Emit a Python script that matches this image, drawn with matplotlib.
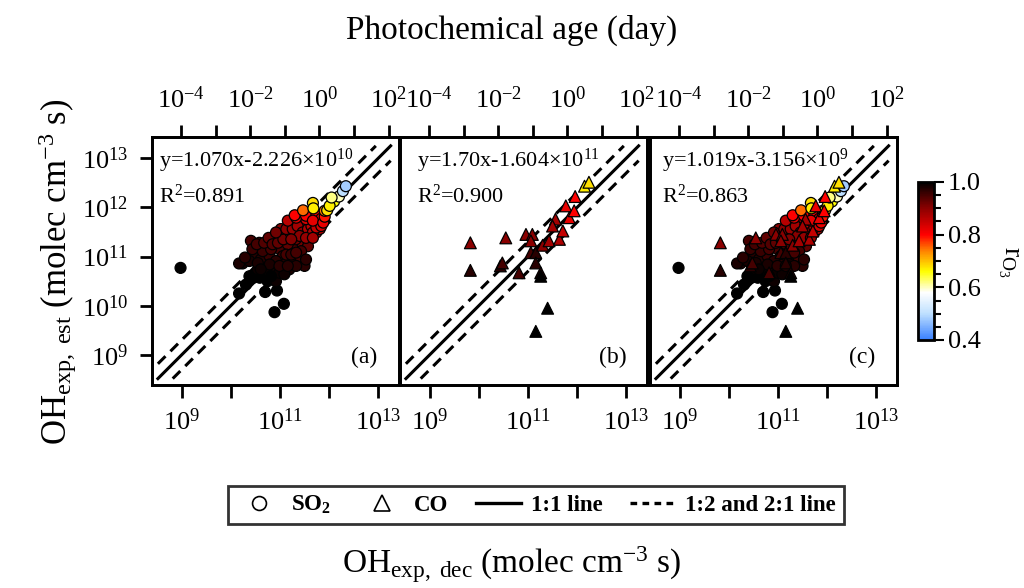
import numpy as np
import matplotlib
matplotlib.use('Agg')
import matplotlib.pyplot as plt
from matplotlib.colors import LinearSegmentedColormap
from matplotlib.ticker import FixedLocator, NullLocator, FuncFormatter, MultipleLocator
from matplotlib.lines import Line2D

plt.rcParams['font.family'] = ['Liberation Serif', 'DejaVu Serif']
plt.rcParams['mathtext.fontset'] = 'custom'
plt.rcParams['mathtext.rm'] = 'Liberation Serif'
plt.rcParams['mathtext.it'] = 'Liberation Serif:italic'
plt.rcParams['mathtext.bf'] = 'Liberation Serif:bold'

# SO2 points: log10(OHexp,dec), log10(OHexp,est), r_O3
so2_x = [8.98, 10.17, 10.31, 10.46, 10.59, 10.70, 10.94, 10.89, 11.08, 10.75, 10.92, 10.38,
         10.24, 10.41, 10.58, 10.72, 10.48, 10.61, 10.79, 10.89, 10.99, 11.06, 11.13, 11.26,
         11.19, 11.40, 11.50, 11.33, 10.85, 10.99, 10.72, 10.55, 10.38, 11.16, 11.02, 11.26,
         11.46, 11.57, 10.65, 10.92, 11.13, 10.82, 10.55, 11.33, 11.09, 10.17, 10.29, 10.44,
         10.53, 10.68, 10.77, 10.85, 10.96, 11.07, 11.21, 11.32, 11.43, 11.53, 11.23, 10.79,
         10.99, 10.61, 10.82, 11.16, 11.33, 11.02, 10.92, 11.40, 11.74, 11.81, 11.13, 11.26,
         11.36, 11.46, 11.57, 11.64, 11.67, 11.74, 11.84, 11.40, 11.53, 11.67, 11.23, 11.16,
         11.53, 11.33, 11.30, 11.53, 11.74, 11.84, 11.67, 11.88, 11.91, 11.47, 11.91, 11.67,
         11.68, 11.96, 12.10, 12.01, 12.20, 12.05, 12.28, 12.34]
so2_y = [10.77, 10.25, 10.43, 10.57, 10.57, 10.28, 10.31, 9.87, 10.04, 10.50, 10.50, 10.60,
         10.86, 11.32, 11.28, 11.16, 11.04, 10.94, 11.01, 11.35, 11.15, 11.01, 10.87, 10.91,
         10.74, 11.01, 10.81, 11.21, 10.81, 10.67, 10.74, 10.74, 10.91, 11.25, 11.42, 11.42,
         11.25, 11.21, 11.11, 10.91, 11.04, 11.15, 10.87, 10.81, 10.64, 10.86, 10.98, 11.15,
         11.25, 11.28, 11.38, 11.25, 11.28, 11.35, 11.49, 11.35, 11.11, 10.94, 11.04, 10.84,
         10.81, 10.74, 10.60, 10.81, 11.08, 11.56, 11.49, 11.56, 11.49, 11.56, 11.56, 11.56,
         11.62, 11.49, 11.56, 11.62, 11.49, 11.59, 11.62, 11.42, 11.38, 11.38, 11.35, 11.73,
         11.76, 11.79, 11.84, 11.83, 11.83, 11.77, 11.73, 11.69, 11.81, 11.94, 11.93, 12.09,
         11.98, 11.94, 12.12, 12.03, 12.22, 12.20, 12.33, 12.43]
so2_r = [1.0, 1.0, 1.0, 1.0, 1.0, 1.0, 1.0, 1.0, 1.0, 1.0, 0.99, 1.0,
         0.98, 0.95, 0.95, 0.96, 0.97, 0.97, 0.96, 0.93, 0.95, 0.96, 0.97, 0.97,
         0.98, 0.95, 0.97, 0.94, 0.98, 0.99, 0.99, 0.99, 0.98, 0.93, 0.92, 0.91,
         0.92, 0.93, 0.96, 0.97, 0.95, 0.95, 0.98, 0.97, 0.99, 0.98, 0.97, 0.96,
         0.95, 0.94, 0.93, 0.94, 0.93, 0.92, 0.90, 0.92, 0.95, 0.97, 0.96, 0.98,
         0.97, 0.99, 1.0, 0.97, 0.95, 0.90, 0.92, 0.88, 0.87, 0.86, 0.90, 0.89,
         0.88, 0.89, 0.87, 0.86, 0.87, 0.85, 0.84, 0.90, 0.89, 0.88, 0.91, 0.86,
         0.84, 0.83, 0.80, 0.80, 0.81, 0.80, 0.82, 0.82, 0.79, 0.75, 0.74, 0.68,
         0.67, 0.68, 0.66, 0.67, 0.60, 0.62, 0.50, 0.48]

# CO points
co_x = [9.83, 9.83, 10.55, 10.44, 10.48, 10.96, 11.09, 11.06, 11.06, 11.16, 11.16, 10.82,
        11.26, 11.26, 11.40, 11.16, 11.30, 11.43, 11.56, 11.64, 11.71, 11.77, 11.84, 11.94,
        11.96, 12.15, 12.24, 11.50]
co_y = [11.28, 10.72, 11.38, 10.81, 10.87, 11.45, 11.45, 11.32, 11.08, 11.08, 10.87, 10.67,
        10.67, 10.60, 9.95, 9.48, 11.23, 11.32, 11.76, 11.35, 11.52, 12.03, 11.79, 11.93,
        12.22, 12.43, 12.51, 11.62]
co_r = [0.90, 0.97, 0.90, 0.97, 0.95, 0.90, 0.90, 0.90, 0.95, 0.97, 0.97, 0.95,
        0.97, 1.0, 1.0, 1.0, 0.90, 0.88, 0.88, 0.87, 0.85, 0.82, 0.82, 0.80,
        0.80, 0.67, 0.68, 0.88]

fit_text = [r'y=1.070x-2.226×10$^{10}$', r'y=1.70x-1.604×10$^{11}$', r'y=1.019x-3.156×10$^{9}$']
r2_text = [r'R$^2$=0.891', r'R$^2$=0.900', r'R$^2$=0.863']
panel_tags = ['(a)', '(b)', '(c)']

cmap = LinearSegmentedColormap.from_list('ro3', [
    (0.0, (0.22, 0.5, 1.0)), (0.167, (0.75, 0.88, 1.0)), (0.3, (1, 1, 1)),
    (0.433, (1, 1, 0)), (0.567, (1, 0.5, 0)), (0.667, (1, 0, 0)),
    (0.833, (0.55, 0, 0)), (1.0, (0, 0, 0))])

W, H = 1024, 588
fig = plt.figure(figsize=(W / 100, H / 100), dpi=100)


def even_fmt(v, p):
    e = int(round(np.log10(v)))
    return r'$10^{%d}$' % e if e % 2 == 0 else ''


def odd_fmt(v, p):
    e = int(round(np.log10(v)))
    return r'$10^{%d}$' % e if e % 2 == 1 else ''


lefts = [152, 400, 650]
lw = 2.0
lo, hi = 8.52, 13.25
l2 = np.log10(2)
sc = None
for i, left in enumerate(lefts):
    ax = fig.add_axes([left / W, 1 - 385 / H, 247 / W, 248 / H])
    ax.set_xscale('log')
    ax.set_yscale('log')
    ax.set_xlim(10 ** 8.4, 10 ** 13.42)
    ax.set_ylim(10 ** 8.39, 10 ** 13.43)
    ax.xaxis.set_major_locator(FixedLocator(10.0 ** np.arange(9, 14)))
    ax.xaxis.set_minor_locator(NullLocator())
    ax.xaxis.set_major_formatter(FuncFormatter(odd_fmt))
    ax.yaxis.set_major_locator(FixedLocator(10.0 ** np.arange(9, 14)))
    ax.yaxis.set_minor_locator(NullLocator())
    ax.tick_params(direction='out', length=9, width=lw, labelsize=19, pad=8)
    if i > 0:
        ax.tick_params(axis='y', left=False, labelleft=False)
    for s in ax.spines.values():
        s.set_linewidth(lw)

    a = np.array([lo, hi])
    ax.plot(10 ** a, 10 ** a, 'k-', lw=2.2)
    a = np.array([lo, hi - l2])
    ax.plot(10 ** a, 2 * 10 ** a, 'k--', lw=2.2, dashes=(3.5, 2.3))
    a = np.array([lo + l2, hi])
    ax.plot(10 ** a, 10 ** a / 2, 'k--', lw=2.2, dashes=(3.5, 2.3))

    if i in (0, 2):
        sc = ax.scatter(10 ** np.array(so2_x), 10 ** np.array(so2_y), c=so2_r, cmap=cmap,
                        vmin=0.4, vmax=1.0, s=62, marker='o', edgecolors='k',
                        linewidths=0.9, zorder=3)
    if i in (1, 2):
        ax.scatter(10 ** np.array(co_x), 10 ** np.array(co_y), c=co_r, cmap=cmap,
                   vmin=0.4, vmax=1.0, s=72, marker='^', edgecolors='k',
                   linewidths=0.9, zorder=3)

    tx = [0.03, 0.07, 0.05][i]
    ax.text(tx, 0.905, fit_text[i], transform=ax.transAxes, fontsize=16, va='center')
    ax.text(tx, 0.76, r2_text[i], transform=ax.transAxes, fontsize=16, va='center')
    ax.text(0.86, 0.11, panel_tags[i], transform=ax.transAxes, fontsize=17,
            ha='center', va='center')

    axt = ax.twiny()
    axt.set_xscale('log')
    axt.set_xlim(10 ** -4.84, 10 ** 2.3)
    axt.xaxis.set_major_locator(FixedLocator(10.0 ** np.arange(-4, 3)))
    axt.xaxis.set_minor_locator(NullLocator())
    axt.xaxis.set_major_formatter(FuncFormatter(even_fmt))
    axt.tick_params(direction='out', length=9, width=lw, labelsize=19, pad=8)
    for s in axt.spines.values():
        s.set_linewidth(lw)

cax = fig.add_axes([918 / W, 1 - 340 / H, 16 / W, 158 / H])
cb = fig.colorbar(sc, cax=cax, ticks=[0.4, 0.6, 0.8, 1.0])
cb.ax.yaxis.set_minor_locator(MultipleLocator(0.05))
cb.ax.set_yticklabels(['0.4', '0.6', '0.8', '1.0'])
cb.ax.tick_params(which='major', length=7, width=1.5, labelsize=19, pad=3)
cb.ax.tick_params(which='minor', length=5, width=1.5)
cb.outline.set_linewidth(lw)
fig.text(1008 / W, 1 - 262 / H, r'r$_{\mathrm{O_3}}$', rotation=-90, fontsize=20,
         ha='center', va='center')

fig.text(0.5, 1 - 30 / H, 'Photochemical age (day)', fontsize=24, ha='center', va='center')
fig.text(0.5, 1 - 565 / H, r'OH$_{\mathrm{exp,\ dec}}$ (molec cm$^{-3}$ s)', fontsize=24,
         ha='center', va='center')
fig.text(58 / W, 1 - 272 / H, r'OH$_{\mathrm{exp,\ est}}$ (molec cm$^{-3}$ s)', fontsize=25,
         ha='center', va='center', rotation=90)

handles = [
    Line2D([], [], ls='none', marker='o', mfc='white', mec='k', ms=10, mew=1.2),
    Line2D([], [], ls='none', marker='^', mfc='white', mec='k', ms=11, mew=1.2),
    Line2D([], [], color='k', lw=2.4),
    Line2D([], [], color='k', lw=2.4, ls='--', dashes=(2, 1.6)),
]
labels = [r'$\mathbf{SO_2}$', 'CO', '1:1 line', '1:2 and 2:1 line']
leg = fig.legend(handles, labels, loc='center', bbox_to_anchor=(536 / W, 1 - 505 / H),
                 ncol=4, frameon=True, fancybox=False, edgecolor='black',
                 prop={'weight': 'bold', 'size': 16.5}, handlelength=2.0,
                 columnspacing=1.2, handletextpad=0.4, borderpad=0.35)
leg.get_frame().set_linewidth(lw)

fig.savefig('out.png', dpi=100)
